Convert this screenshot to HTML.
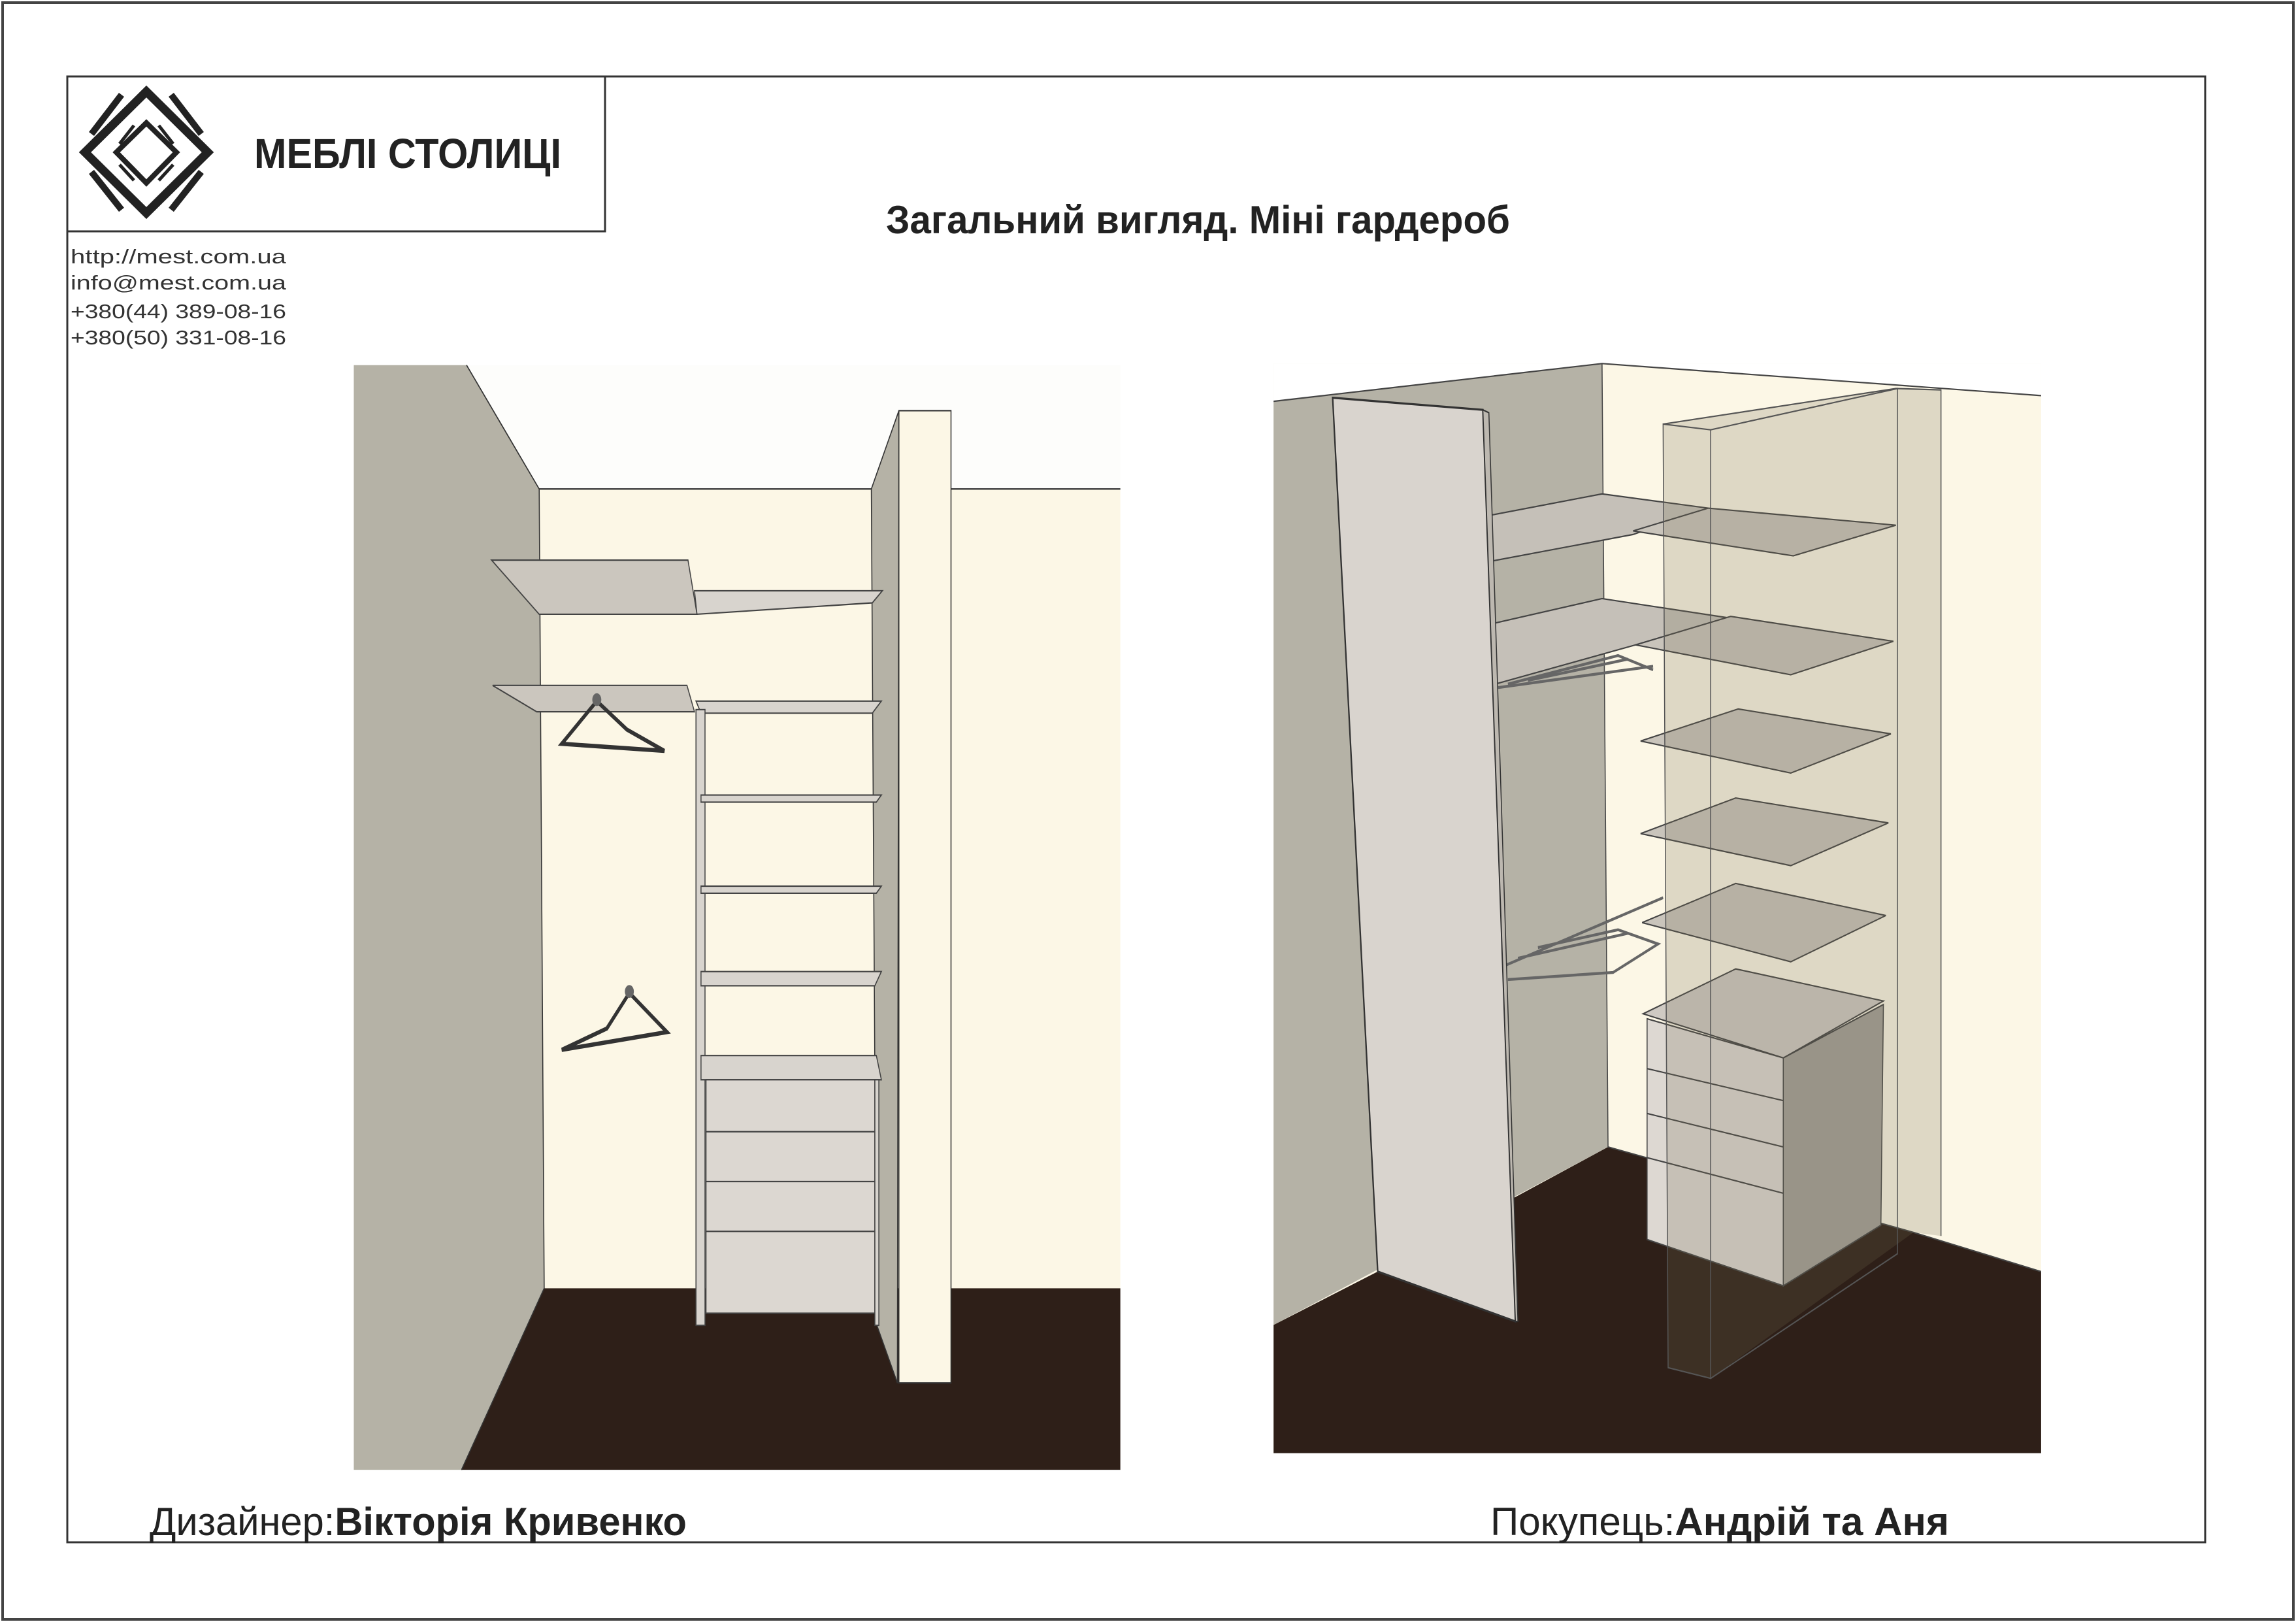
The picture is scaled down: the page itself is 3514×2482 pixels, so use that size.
<!DOCTYPE html>
<html><head><meta charset="utf-8"><style>
html,body{margin:0;padding:0;background:#fff}
svg{display:block}
</style></head><body>
<svg width="3514" height="2482" viewBox="0 0 3514 2482" xmlns="http://www.w3.org/2000/svg" font-family="Liberation Sans, DejaVu Sans, sans-serif">
<rect x="0" y="0" width="3514" height="2482" fill="#fff"/>
<rect x="4" y="4" width="3506" height="2474" fill="none" stroke="#444" stroke-width="4"/>
<rect x="103" y="117" width="3272" height="2243" fill="none" stroke="#333" stroke-width="3"/>
<rect x="103" y="117" width="823" height="237" fill="none" stroke="#333" stroke-width="3"/>
<!-- logo -->
<g fill="none" stroke="#222">
<polygon points="224,140 318,233 224,326 130,233" stroke-width="13"/>
<polygon points="224,188 270,233 224,280 178,233" stroke-width="8"/>
</g>
<g stroke="#222" stroke-width="10" stroke-linecap="butt">
<line x1="186" y1="145" x2="140" y2="205"/>
<line x1="262" y1="145" x2="308" y2="205"/>
<line x1="140" y1="263" x2="186" y2="321"/>
<line x1="308" y1="263" x2="262" y2="321"/>
<line x1="205" y1="192" x2="183" y2="220" stroke-width="5"/>
<line x1="243" y1="192" x2="265" y2="220" stroke-width="5"/>
<line x1="183" y1="252" x2="205" y2="276" stroke-width="5"/>
<line x1="265" y1="252" x2="243" y2="276" stroke-width="5"/>
</g>
<text x="389" y="257" font-size="64" font-weight="bold" fill="#222" textLength="470" lengthAdjust="spacingAndGlyphs">МЕБЛІ  СТОЛИЦІ</text>
<g font-size="31" fill="#333">
<text x="108" y="403" textLength="330" lengthAdjust="spacingAndGlyphs">http://mest.com.ua</text>
<text x="108" y="443" textLength="330" lengthAdjust="spacingAndGlyphs">info@mest.com.ua</text>
<text x="108" y="487" textLength="330" lengthAdjust="spacingAndGlyphs">+380(44)   389-08-16</text>
<text x="108" y="527" textLength="330" lengthAdjust="spacingAndGlyphs">+380(50)   331-08-16</text>
</g>
<text x="1356" y="357" font-size="60" font-weight="bold" fill="#222" textLength="955" lengthAdjust="spacingAndGlyphs">Загальний вигляд. Міні гардероб</text>
<text x="229" y="2349" font-size="60" fill="#222" textLength="822" lengthAdjust="spacingAndGlyphs">Дизайнер:<tspan font-weight="bold">Вікторія Кривенко</tspan></text>
<text x="2281" y="2349" font-size="60" fill="#222" textLength="702" lengthAdjust="spacingAndGlyphs">Покупець:<tspan font-weight="bold">Андрій та Аня</tspan></text>

<!-- left image -->
<svg x="530" y="550" width="1200" height="1710" viewBox="0 0 1565 1570" preserveAspectRatio="none">
<rect x="15" y="8" width="1530" height="1552" fill="#fdfdfb"/>
<rect x="385" y="182" width="1160" height="1125" fill="#fcf7e6"/>
<polygon points="15,8 240,8 385,182 395,1305 230,1560 15,1560" fill="#b5b2a6"/>
<polygon points="395,1305 1545,1305 1545,1560 230,1560" fill="#2e1f18"/>
<polyline points="240,8 385,182 395,1305 230,1560" fill="none" stroke="#333" stroke-width="2"/>
<line x1="385" y1="182" x2="1545" y2="182" stroke="#333" stroke-width="2"/>
<polygon points="1048,182 1103,72 1100,1438 1058,1355" fill="#b5b2a6" stroke="#333" stroke-width="2"/>
<rect x="1103" y="72" width="104" height="1366" fill="#fcf7e6" stroke="#333" stroke-width="2"/>
<g stroke="#444" stroke-width="2">
<polygon points="290,282 682,282 700,358 385,358" fill="#cbc6be"/>
<polygon points="695,325 1070,325 1050,342 700,358" fill="#d8d4ce"/>
<polygon points="292,458 680,458 695,495 380,495" fill="#cbc6be"/>
<polygon points="698,480 1068,480 1050,497 708,497" fill="#d8d4ce"/>
<rect x="698" y="492" width="18" height="865" fill="#d8d4ce"/>
<polygon points="708,612 1068,612 1058,622 708,622" fill="#d8d4ce"/>
<polygon points="708,740 1068,740 1058,750 708,750" fill="#d8d4ce"/>
<polygon points="708,860 1068,860 1055,880 708,880" fill="#d8d4ce"/>
<polygon points="708,978 1058,978 1068,1012 708,1012" fill="#d8d4ce"/>
<rect x="718" y="1012" width="337" height="328" fill="#dcd7d1"/>
<line x1="718" y1="1085" x2="1055" y2="1085"/>
<line x1="718" y1="1155" x2="1055" y2="1155"/>
<line x1="718" y1="1225" x2="1055" y2="1225"/>
<rect x="1055" y="1012" width="8" height="345" fill="#d8d4ce"/>
</g>
<g fill="none" stroke="#333" stroke-width="6">
<path d="M500,480 L560,520 L635,550 L430,540 Z"/>
<path d="M565,890 L520,940 L430,970 L640,945 Z"/>
</g>
<circle cx="500" cy="478" r="9" fill="#666"/>
<circle cx="565" cy="888" r="9" fill="#666"/>
</svg>

<!-- right image -->
<svg x="1940" y="540" width="1200" height="1700" viewBox="0 0 1566 1560" preserveAspectRatio="none">
<rect x="12" y="15" width="1533" height="1530" fill="#fcf7e6"/>
<polygon points="12,15 1545,15 1545,60 668,15 12,68" fill="#fff"/>
<polygon points="12,68 668,15 680,1115 12,1365" fill="#b5b2a6"/>
<polygon points="12,1365 220,1290 680,1115 1290,1235 1545,1290 1545,1545 12,1545" fill="#2e1f18"/>
<g stroke="#444" stroke-width="2" fill="none">
<polyline points="12,68 668,15 1545,60"/>
<line x1="668" y1="15" x2="680" y2="1115"/>
<polyline points="680,1115 1290,1235 1545,1290"/>
</g>
<g stroke="#444" stroke-width="2">
<polygon points="445,228 668,198 880,218 730,255 450,292" fill="#c5c0b8"/>
<polygon points="450,380 668,345 920,372 735,410 455,465" fill="#c5c0b8"/>
<polygon points="730,250 880,218 1255,242 1050,285" fill="#c9c4bb"/>
<polygon points="735,410 925,370 1250,405 1045,452" fill="#c9c4bb"/>
<polygon points="745,545 940,500 1245,535 1045,590" fill="#c9c4bb"/>
<polygon points="745,675 935,625 1240,660 1045,720" fill="#c9c4bb"/>
<polygon points="748,800 935,745 1235,790 1045,855" fill="#c9c4bb"/>
<polygon points="750,928 935,865 1230,910 1030,990" fill="#cfcac3"/>
<polygon points="758,935 1030,990 1030,1310 758,1245" fill="#ddd8d2"/>
<polygon points="1030,990 1230,915 1225,1225 1030,1310" fill="#a39f98"/>
<line x1="758" y1="1005" x2="1030" y2="1050"/>
<line x1="758" y1="1068" x2="1030" y2="1115"/>
<line x1="758" y1="1130" x2="1030" y2="1180"/>
</g>
<g stroke="#666" stroke-width="4" fill="none">
<path d="M460,470 L770,440 M480,465 L700,425 L770,445 M520,460 L720,430"/>
<path d="M475,860 L790,765 M480,880 L690,870 L780,830 L700,810 L540,835 M500,850 L720,815"/>
</g>
<polygon points="790,100 1258,50 1345,52 1345,1240 1290,1235 885,1440 800,1425" fill="rgba(120,110,80,0.22)"/>
<g stroke="#555" stroke-width="2" fill="none">
<polygon points="790,100 885,108 885,1440 800,1425"/>
<polyline points="885,108 1258,50 1258,1265 885,1440"/>
<polyline points="790,100 1255,50 1345,52 1345,1240"/>
</g>
<polygon points="130,63 430,80 495,1360 220,1290" fill="#d9d4ce" stroke="#333" stroke-width="3"/>
<polygon points="430,80 442,84 500,1360 495,1360" fill="#bdb8b0" stroke="#333" stroke-width="2"/>
</svg>
</svg>
</body></html>
